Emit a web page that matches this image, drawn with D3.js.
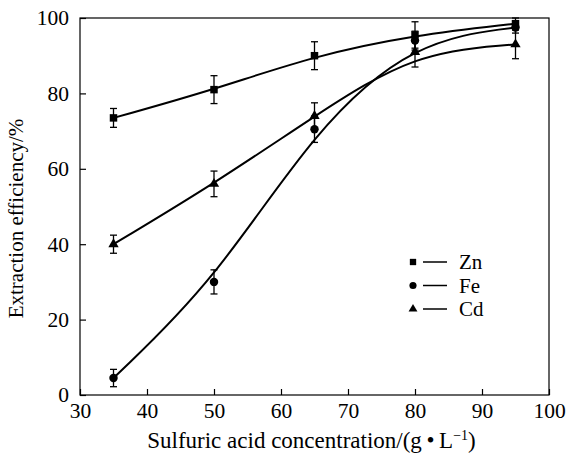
<!DOCTYPE html>
<html>
<head>
<meta charset="utf-8">
<script src="https://cdn.jsdelivr.net/npm/d3@7"></script>
<style>
  body { margin: 0; background: #fff; }
  text { font-family: "Liberation Serif", "Times New Roman", serif; fill: #000; }
</style>
</head>
<body>
<svg id="chart" width="566" height="455"></svg>
<script>
// data
var conc = [35, 50, 65, 80, 95];
var zn = [73.5, 81, 90, 95.5, 98.5];
var fe = [4.5, 30, 70.5, 94, 97.5];
var cd = [40, 56, 74, 91, 93];
var znErr = [2.5, 3.7, 3.7, 3.5, 1.5];
var feErr = [2.3, 3.2, 3.5, 2.5, 1.5];
var cdErr = [2.4, 3.4, 3.5, 4, 3.8];
var xTicks = [30, 40, 50, 60, 70, 80, 90, 100];
var yTicks = [0, 20, 40, 60, 80, 100];

var margin = {top: 18, right: 17, bottom: 60, left: 80},
    width = 566 - margin.left - margin.right,
    height = 455 - margin.top - margin.bottom;

var svg = d3.select("#chart").append("g")
    .attr("transform", "translate(" + margin.left + "," + margin.top + ")");

var x = d3.scaleLinear().domain([30, 100]).range([0, width]),
    y = d3.scaleLinear().domain([0, 100]).range([height, 0]);

// frame
svg.append("rect")
    .attr("width", width)
    .attr("height", height)
    .attr("fill", "none")
    .attr("stroke", "#000")
    .attr("stroke-width", 1.2);

var xAxis = d3.axisBottom(x).tickValues(xTicks).tickSizeInner(-6).tickSizeOuter(0).tickPadding(8);
var yAxis = d3.axisLeft(y).tickValues(yTicks).tickSizeInner(-6).tickSizeOuter(0).tickPadding(11);

var gx = svg.append("g")
    .attr("transform", "translate(0," + height + ")")
    .call(xAxis);
var gy = svg.append("g").call(yAxis);

[gx, gy].forEach(function(g) {
  g.select(".domain").remove();
  g.selectAll("line").attr("stroke", "#000").attr("stroke-width", 1.2);
  g.selectAll("text")
    .attr("fill", "#000")
    .style("font-family", "Liberation Serif")
    .style("font-size", "21.5px");
});

var xTitle = svg.append("text")
    .attr("x", width / 2 - 3)
    .attr("y", height + 53)
    .attr("text-anchor", "middle")
    .style("font-size", "23px");
xTitle.append("tspan").text("Sulfuric acid concentration/(g\u2009\u2022\u2009L");
xTitle.append("tspan")
    .attr("dy", -8)
    .style("font-size", "14px")
    .text("\u22121");
xTitle.append("tspan")
    .attr("dy", 8)
    .text(")");

svg.append("text")
    .attr("transform", "translate(" + (-57) + "," + (height / 2 + 12) + ") rotate(-90)")
    .attr("text-anchor", "middle")
    .style("font-size", "21px")
    .text("Extraction efficiency/%");

var line = d3.line()
    .curve(d3.curveBasis)
    .x(function(d) { return x(d.c); })
    .y(function(d) { return y(d.v); });

var series = [
  {id: "Zn", vals: zn, err: znErr, sym: d3.symbolSquare, size: 56},
  {id: "Fe", vals: fe, err: feErr, sym: d3.symbolCircle, size: 56},
  {id: "Cd", vals: cd, err: cdErr, sym: d3.symbolTriangle, size: 46}
];

series.forEach(function(s) {
  var pts = conc.map(function(c, i) { return {c: c, v: s.vals[i], e: s.err[i]}; });

  svg.append("path")
      .datum(pts)
      .attr("d", line)
      .attr("fill", "none")
      .attr("stroke", "#000")
      .attr("stroke-width", 2);

  var eb = svg.append("g").selectAll("g")
      .data(pts)
      .enter().append("g")
      .attr("stroke", "#000")
      .attr("stroke-width", 1.3);
  eb.append("line")
      .attr("x1", function(d) { return x(d.c); })
      .attr("x2", function(d) { return x(d.c); })
      .attr("y1", function(d) { return y(d.v + d.e); })
      .attr("y2", function(d) { return y(d.v - d.e); });
  eb.append("line")
      .attr("x1", function(d) { return x(d.c) - 3.5; })
      .attr("x2", function(d) { return x(d.c) + 3.5; })
      .attr("y1", function(d) { return y(d.v + d.e); })
      .attr("y2", function(d) { return y(d.v + d.e); });
  eb.append("line")
      .attr("x1", function(d) { return x(d.c) - 3.5; })
      .attr("x2", function(d) { return x(d.c) + 3.5; })
      .attr("y1", function(d) { return y(d.v - d.e); })
      .attr("y2", function(d) { return y(d.v - d.e); });

  svg.append("g").selectAll("path")
      .data(pts)
      .enter().append("path")
      .attr("d", d3.symbol().type(s.sym).size(s.size))
      .attr("transform", function(d) { return "translate(" + x(d.c) + "," + y(d.v) + ")"; })
      .attr("fill", "#000");
});

// legend
var legend = svg.append("g")
    .attr("transform", "translate(" + (413 - margin.left) + "," + (262 - margin.top) + ")");
var li = legend.selectAll("g")
    .data(series)
    .enter().append("g")
    .attr("transform", function(d, i) { return "translate(0," + (i * 23.5) + ")"; });
li.append("path")
    .attr("d", function(d) { return d3.symbol().type(d.sym).size(d.id == "Cd" ? 34 : 40)(); })
    .attr("fill", "#000");
li.append("line")
    .attr("x1", 10).attr("x2", 34)
    .attr("stroke", "#000")
    .attr("stroke-width", 1.5);
li.append("text")
    .attr("x", 46)
    .attr("dy", "0.35em")
    .style("font-size", "21px")
    .text(function(d) { return d.id; });
</script>
</body>
</html>
